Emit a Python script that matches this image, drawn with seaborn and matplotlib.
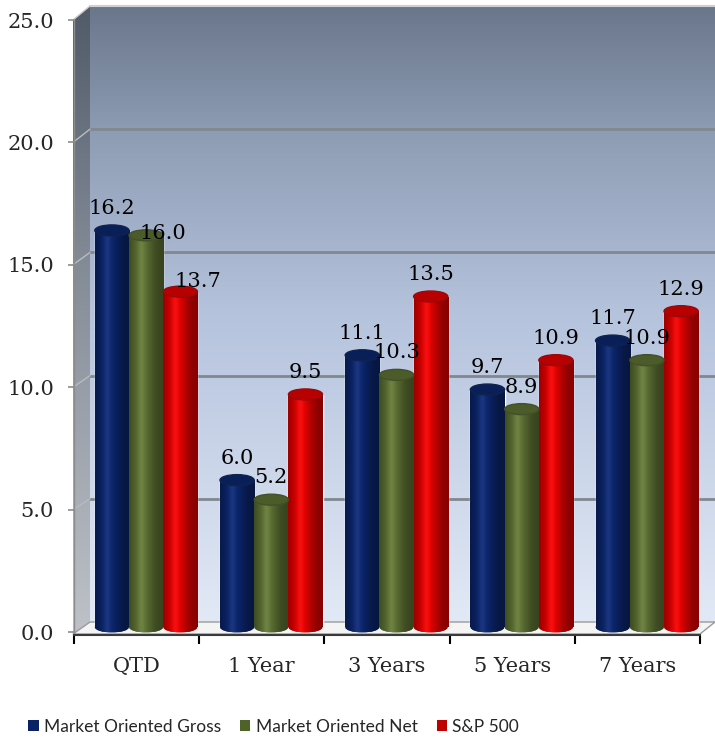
import numpy as np
import pandas as pd
import seaborn as sns
import matplotlib
matplotlib.use("Agg")
import matplotlib.pyplot as plt
from matplotlib.patches import Polygon, Ellipse, Patch
from matplotlib.transforms import ScaledTranslation
from matplotlib.colors import to_rgb

# ---------------- data ----------------
categories = ["QTD", "1 Year", "3 Years", "5 Years", "7 Years"]
series_names = ["Market Oriented Gross", "Market Oriented Net", "S&P 500"]
gross = [16.2, 6.0, 11.1, 9.7, 11.7]
net = [16.0, 5.2, 10.3, 8.9, 10.9]
sp500 = [13.7, 9.5, 13.5, 10.9, 12.9]
y_ticks = [0, 5, 10, 15, 20, 25]

colors = ["#0B2468", "#586B30", "#D80000"]
legend_colors = ["#0B2166", "#4F6228", "#C00000"]

df = pd.DataFrame({
    "cat": categories * 3,
    "series": [series_names[0]] * 5 + [series_names[1]] * 5 + [series_names[2]] * 5,
    "value": gross + net + sp500,
})

W, H, DPI = 715, 740, 100
sns.set_theme(style="white")
plt.rcParams["font.family"] = ["DejaVu Serif"]
fig = plt.figure(figsize=(W / DPI, H / DPI), dpi=DPI)

# ---------------- background (3D walls) in pixel coords ----------------
bg = fig.add_axes([0, 0, 1, 1], zorder=0)
bg.set_xlim(0, W)
bg.set_ylim(H, 0)
bg.axis("off")

def vgrad(stops, n=256):
    pos = np.array([s[0] for s in stops])
    cols = np.array([s[1] for s in stops], dtype=float) / 255.0
    t = np.linspace(0, 1, n)
    arr = np.stack([np.interp(t, pos, cols[:, k]) for k in range(3)], axis=-1)
    return arr[:, None, :]

# back wall
back = vgrad([(0, (106, 119, 139)), (0.2, (141, 155, 179)), (0.5, (181, 195, 221)), (1.0, (226, 233, 246))])
bg.imshow(back, extent=(90, 715, 622, 6), aspect="auto", zorder=0)
bg.plot([90, 715], [6, 6], color="#d0d0d0", lw=1.5, zorder=1)

# side wall
side = vgrad([(0, (80, 90, 104)), (0.4, (130, 138, 150)), (1.0, (190, 194, 200))])
side_poly = Polygon([(73, 20), (90, 6), (90, 622), (73, 634)], closed=True, facecolor="none", edgecolor="none")
bg.add_patch(side_poly)
im = bg.imshow(side, extent=(73, 90, 634, 6), aspect="auto", zorder=0.5)
im.set_clip_path(side_poly)
bg.plot([73, 90], [20, 6], color="#c8c8c8", lw=1, zorder=1)

# floor
bg.add_patch(Polygon([(73, 634), (700, 634), (715, 622), (90, 622)], closed=True,
                     facecolor="#f4f4f4", edgecolor="#9a9a9a", lw=1, zorder=1))

# gridlines on back wall + side wall diagonals
for v in y_ticks[1:-1]:
    yb = 622 - v * 24.64
    yf = 632 - v * 24.48
    bg.plot([90, 715], [yb, yb], color="#80878f", lw=2.0, zorder=1)
    bg.plot([73, 90], [yf, yb], color="#b8bcc2", lw=1, zorder=1)

# ---------------- main axes ----------------
ax = fig.add_axes([74 / W, (H - 632) / H, (700 - 74) / W, (632 - 20) / H], zorder=1)
ax.patch.set_alpha(0)

sns.barplot(data=df, x="cat", y="value", hue="series", hue_order=series_names,
            order=categories, palette=colors, width=0.82, gap=0, saturation=1,
            legend=False, ax=ax, zorder=2)

ax.set_xlim(-0.5, 4.5)
ax.set_ylim(0, 25)

shift = ScaledTranslation(9.5 / DPI, 5 / DPI, fig.dpi_scale_trans)
tr = ax.transData + shift
px_per_unit = (632 - 20) / 25.0
ell_h = 11.0 / px_per_unit

def shade(base, n=64):
    t = np.linspace(0, 1, n)
    s = 0.62 + 0.45 * np.exp(-((t - 0.38) / 0.32) ** 2)
    b = np.array(to_rgb(base))
    arr = np.clip(b[None, :] * s[:, None], 0, 1)
    hl = 0.06 * np.exp(-((t - 0.35) / 0.10) ** 2)
    arr = np.clip(arr + hl[:, None], 0, 1)
    return arr[None, :, :]

label_offsets = {(0, 1): (17, 2), (0, 2): (17, 10)}

for hi, cont in enumerate(ax.containers):
    base = colors[hi]
    grad = shade(base)
    for ci, p in enumerate(cont.patches):
        p.set_transform(tr)
        p.set_clip_on(False)
        x0, w, h = p.get_x(), p.get_width(), p.get_height()
        cx = x0 + w / 2
        im1 = ax.imshow(grad, extent=(x0, x0 + w, 0, h), aspect="auto", zorder=2.2)
        im1.set_transform(tr)
        im1.set_clip_path(p)
        bot = Ellipse((cx, 0), w, ell_h, transform=tr, facecolor=base, edgecolor="none", zorder=1.9, clip_on=False)
        ax.add_patch(bot)
        im2 = ax.imshow(grad, extent=(x0, x0 + w, -ell_h, ell_h), aspect="auto", zorder=2.1)
        im2.set_transform(tr)
        im2.set_clip_path(bot)
        bc = np.array(to_rgb(base))
        cap = Ellipse((cx, h), w, ell_h, transform=tr, facecolor=bc * 0.85,
                      edgecolor=np.clip(bc * 0.65 + 0.04, 0, 1), lw=1.0, zorder=2.5, clip_on=False)
        ax.add_patch(cap)
        dx, dy = label_offsets.get((ci, hi), (0, 22))
        ax.annotate(f"{h:.1f}", xy=(cx, h), xycoords=tr, xytext=(dx, dy),
                    textcoords="offset pixels", ha="center", va="center",
                    fontsize=15, color="black", zorder=4, annotation_clip=False)

# axes styling
for s in ["top", "right"]:
    ax.spines[s].set_visible(False)
ax.spines["left"].set_color("#8c8c8c")
ax.spines["left"].set_linewidth(1.0)
ax.spines["bottom"].set_color("#3a3a3a")
ax.spines["bottom"].set_linewidth(1.5)
ax.spines["bottom"].set_position(("outward", 2))

ax.set_yticks(y_ticks)
ax.set_yticklabels([f"{v:.1f}" for v in y_ticks], fontsize=15)
ax.tick_params(axis="y", left=True, length=4.5, width=1.2, color="#8c8c8c", pad=10)

ax.set_xticks(np.arange(-0.5, 5.0, 1.0))
ax.set_xticklabels([])
ax.set_xticks(np.arange(5), minor=True)
ax.set_xticklabels(categories, minor=True, fontsize=15)
ax.tick_params(axis="x", which="major", bottom=True, length=6.5, width=1.5, color="black")
ax.tick_params(axis="x", which="minor", bottom=True, length=0, pad=16)
ax.set_xlabel("")
ax.set_ylabel("")
ax.grid(False)

# legend
handles = [Patch(facecolor=c, edgecolor="none", label=n) for c, n in zip(legend_colors, series_names)]
fig.legend(handles=handles, loc="center", bbox_to_anchor=(273.5 / W, (H - 727) / H), ncol=3,
           frameon=False, prop={"family": ["Lato"], "size": 12.5},
           handlelength=0.6, handleheight=0.6, handletextpad=0.3, columnspacing=1.1, borderpad=0)

fig.savefig("out.png", dpi=DPI)
